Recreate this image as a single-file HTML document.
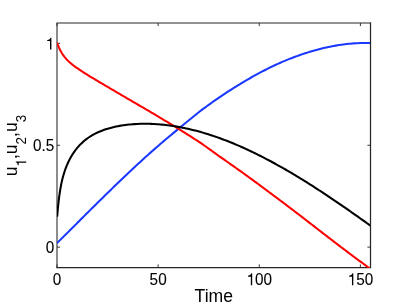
<!DOCTYPE html>
<html><head><meta charset="utf-8"><title>plot</title>
<style>
html,body{margin:0;padding:0;background:#fff;}
svg{display:block;will-change:transform;}
text{font-family:"Liberation Sans",sans-serif;fill:#000;}
</style></head>
<body>
<svg width="409" height="307" viewBox="0 0 409 307">
<defs><clipPath id="c"><rect x="57.0" y="23.0" width="313.00" height="245.00"/></clipPath></defs>
<rect x="0" y="0" width="409" height="307" fill="#fff"/>
<g fill="none" stroke="#3a3a3a" stroke-width="1.0">
<path d="M57.00,267.5 v-3.1 M57.00,23.0 v3.1"/><path d="M158.13,267.5 v-3.1 M158.13,23.0 v3.1"/><path d="M259.26,267.5 v-3.1 M259.26,23.0 v3.1"/><path d="M360.39,267.5 v-3.1 M360.39,23.0 v3.1"/><path d="M57.0,247.12 h3.1 M370.5,247.12 h-3.1"/><path d="M57.0,145.25 h3.1 M370.5,145.25 h-3.1"/><path d="M57.0,43.37 h3.1 M370.5,43.37 h-3.1"/>
</g>
<g fill="none" stroke="#262626" stroke-linecap="square">
<path d="M57.0,267.5 L57.0,23.0 L370.5,23.0" stroke-width="1.05"/>
<path d="M57.0,267.5 L370.5,267.5 L370.5,23.0" stroke-width="1.25"/>
</g>
<g fill="none" stroke-linejoin="round" stroke-linecap="butt" stroke-width="2.05" clip-path="url(#c)">
<path stroke="#1a38ff" d="M57.00,242.80 L57.23,242.78 L57.45,242.56 L57.68,242.34 L57.91,242.12 L58.13,241.90 L58.36,241.68 L58.59,241.45 L58.82,241.23 L59.04,241.01 L59.27,240.79 L59.50,240.57 L59.72,240.35 L59.95,240.13 L60.18,239.91 L60.40,239.68 L60.63,239.46 L60.86,239.24 L61.09,239.02 L61.31,238.80 L61.54,238.57 L61.77,238.35 L61.99,238.13 L62.22,237.91 L62.45,237.68 L62.67,237.46 L62.90,237.24 L63.13,237.01 L63.36,236.79 L63.58,236.57 L63.81,236.35 L64.04,236.12 L64.26,235.90 L64.49,235.67 L64.72,235.45 L64.94,235.23 L65.17,235.00 L65.40,234.78 L65.62,234.56 L65.85,234.33 L66.08,234.11 L66.31,233.88 L66.53,233.66 L66.76,233.43 L66.99,233.21 L67.21,232.98 L67.44,232.76 L67.67,232.54 L67.89,232.31 L68.12,232.09 L68.35,231.86 L68.58,231.64 L68.80,231.41 L69.03,231.18 L69.26,230.96 L69.48,230.73 L69.71,230.51 L69.94,230.28 L70.16,230.06 L70.39,229.83 L70.62,229.61 L70.84,229.38 L71.07,229.15 L71.30,228.93 L71.53,228.70 L71.75,228.48 L71.98,228.25 L72.21,228.02 L72.43,227.80 L72.66,227.57 L72.89,227.34 L73.11,227.12 L73.34,226.89 L73.57,226.66 L73.80,226.44 L74.02,226.21 L74.25,225.98 L74.48,225.76 L74.70,225.53 L74.93,225.30 L75.16,225.08 L75.38,224.85 L75.61,224.62 L75.84,224.40 L76.07,224.17 L76.29,223.94 L76.52,223.71 L76.75,223.49 L76.97,223.26 L77.20,223.03 L79.05,221.18 L80.89,219.33 L82.74,217.47 L84.59,215.61 L86.43,213.78 L88.28,211.96 L90.13,210.14 L91.97,208.32 L93.82,206.49 L95.67,204.67 L97.51,202.85 L99.36,201.03 L101.21,199.22 L103.05,197.40 L104.90,195.59 L106.74,193.78 L108.59,191.97 L110.44,190.17 L112.28,188.37 L114.13,186.57 L115.98,184.79 L117.82,183.01 L119.67,181.24 L121.52,179.47 L123.36,177.71 L125.21,175.96 L127.06,174.21 L128.90,172.47 L130.75,170.73 L132.60,169.00 L134.44,167.27 L136.29,165.56 L138.14,163.85 L139.98,162.15 L141.83,160.45 L143.68,158.76 L145.52,157.09 L147.37,155.43 L149.22,153.78 L151.06,152.14 L152.91,150.50 L154.75,148.88 L156.60,147.26 L158.45,145.65 L160.29,144.06 L162.14,142.47 L163.99,140.89 L165.83,139.32 L167.68,137.76 L169.53,136.22 L171.37,134.68 L173.22,133.15 L175.07,131.63 L176.91,130.11 L178.76,128.57 L180.61,127.04 L182.45,125.52 L184.30,124.02 L186.15,122.52 L187.99,121.04 L189.84,119.57 L191.69,118.04 L193.53,116.52 L195.38,115.02 L197.23,113.52 L199.07,112.04 L200.92,110.56 L202.76,109.18 L204.61,107.82 L206.46,106.47 L208.30,105.13 L210.15,103.80 L212.00,102.49 L213.84,101.18 L215.69,99.89 L217.54,98.62 L219.38,97.35 L221.23,96.10 L223.08,94.86 L224.92,93.63 L226.77,92.42 L228.62,91.22 L230.46,90.03 L232.31,88.86 L234.16,87.70 L236.00,86.55 L237.85,85.42 L239.70,84.30 L241.54,83.17 L243.39,82.06 L245.24,80.96 L247.08,79.88 L248.93,78.80 L250.77,77.75 L252.62,76.70 L254.47,75.67 L256.31,74.65 L258.16,73.65 L260.01,72.66 L261.85,71.69 L263.70,70.73 L265.55,69.78 L267.39,68.85 L269.24,67.93 L271.09,67.03 L272.93,66.14 L274.78,65.26 L276.63,64.40 L278.47,63.56 L280.32,62.73 L282.17,61.93 L284.01,61.15 L285.86,60.38 L287.71,59.63 L289.55,58.89 L291.40,58.17 L293.25,57.46 L295.09,56.77 L296.94,56.09 L298.78,55.43 L300.63,54.78 L302.48,54.15 L304.32,53.54 L306.17,52.94 L308.02,52.36 L309.86,51.79 L311.71,51.24 L313.56,50.71 L315.40,50.19 L317.25,49.69 L319.10,49.20 L320.94,48.74 L322.79,48.28 L324.64,47.85 L326.48,47.43 L328.33,47.04 L330.18,46.65 L332.02,46.29 L333.87,45.95 L335.72,45.62 L337.56,45.31 L339.41,45.02 L341.26,44.74 L343.10,44.49 L344.95,44.25 L346.79,44.04 L348.64,43.84 L350.49,43.66 L352.33,43.50 L354.18,43.36 L356.03,43.25 L357.87,43.15 L359.72,43.07 L361.57,43.01 L363.41,42.98 L365.26,42.96 L367.11,42.97 L368.95,43.00 L370.80,43.05"/>
<path stroke="#ff0000" d="M57.00,43.26 L57.23,43.34 L57.45,43.94 L57.68,44.53 L57.91,45.11 L58.13,45.66 L58.36,46.21 L58.59,46.74 L58.82,47.25 L59.04,47.75 L59.27,48.24 L59.50,48.72 L59.72,49.18 L59.95,49.64 L60.18,50.08 L60.40,50.51 L60.63,50.93 L60.86,51.34 L61.09,51.74 L61.31,52.13 L61.54,52.52 L61.77,52.89 L61.99,53.26 L62.22,53.62 L62.45,53.97 L62.67,54.31 L62.90,54.64 L63.13,54.97 L63.36,55.29 L63.58,55.61 L63.81,55.92 L64.04,56.22 L64.26,56.52 L64.49,56.81 L64.72,57.10 L64.94,57.38 L65.17,57.65 L65.40,57.92 L65.62,58.19 L65.85,58.45 L66.08,58.71 L66.31,58.96 L66.53,59.21 L66.76,59.46 L66.99,59.70 L67.21,59.94 L67.44,60.17 L67.67,60.40 L67.89,60.63 L68.12,60.85 L68.35,61.08 L68.58,61.29 L68.80,61.51 L69.03,61.72 L69.26,61.93 L69.48,62.14 L69.71,62.35 L69.94,62.55 L70.16,62.75 L70.39,62.95 L70.62,63.15 L70.84,63.34 L71.07,63.53 L71.30,63.72 L71.53,63.91 L71.75,64.10 L71.98,64.29 L72.21,64.47 L72.43,64.65 L72.66,64.83 L72.89,65.01 L73.11,65.19 L73.34,65.36 L73.57,65.54 L73.80,65.71 L74.02,65.88 L74.25,66.06 L74.48,66.23 L74.70,66.39 L74.93,66.56 L75.16,66.73 L75.38,66.89 L75.61,67.06 L75.84,67.22 L76.07,67.39 L76.29,67.55 L76.52,67.71 L76.75,67.87 L76.97,68.03 L77.20,68.19 L79.05,69.45 L80.89,70.68 L82.74,71.88 L84.59,73.06 L86.43,74.22 L88.28,75.37 L90.13,76.51 L91.97,77.62 L93.82,78.72 L95.67,79.82 L97.51,80.92 L99.36,82.01 L101.21,83.10 L103.05,84.19 L104.90,85.27 L106.74,86.36 L108.59,87.44 L110.44,88.53 L112.28,89.61 L114.13,90.70 L115.98,91.78 L117.82,92.87 L119.67,93.96 L121.52,95.04 L123.36,96.13 L125.21,97.22 L127.06,98.31 L128.90,99.40 L130.75,100.48 L132.60,101.55 L134.44,102.61 L136.29,103.68 L138.14,104.75 L139.98,105.82 L141.83,106.90 L143.68,107.97 L145.52,109.05 L147.37,110.13 L149.22,111.22 L151.06,112.31 L152.91,113.40 L154.75,114.49 L156.60,115.59 L158.45,116.69 L160.29,117.79 L162.14,118.90 L163.99,120.01 L165.83,121.12 L167.68,122.24 L169.53,123.36 L171.37,124.49 L173.22,125.62 L175.07,126.75 L176.91,127.89 L178.76,129.03 L180.61,130.17 L182.45,131.32 L184.30,132.48 L186.15,133.63 L187.99,134.80 L189.84,135.96 L191.69,137.13 L193.53,138.31 L195.38,139.49 L197.23,140.67 L199.07,141.86 L200.92,143.11 L202.76,144.41 L204.61,145.72 L206.46,147.03 L208.30,148.34 L210.15,149.67 L212.00,150.99 L213.84,152.32 L215.69,153.66 L217.54,154.99 L219.38,156.34 L221.23,157.64 L223.08,158.92 L224.92,160.20 L226.77,161.49 L228.62,162.78 L230.46,164.07 L232.31,165.37 L234.16,166.68 L236.00,167.99 L237.85,169.30 L239.70,170.62 L241.54,171.94 L243.39,173.26 L245.24,174.59 L247.08,175.93 L248.93,177.26 L250.77,178.60 L252.62,179.95 L254.47,181.30 L256.31,182.65 L258.16,184.00 L260.01,185.36 L261.85,186.72 L263.70,188.09 L265.55,189.46 L267.39,190.83 L269.24,192.20 L271.09,193.58 L272.93,194.96 L274.78,196.34 L276.63,197.73 L278.47,199.11 L280.32,200.50 L282.17,201.90 L284.01,203.29 L285.86,204.69 L287.71,206.08 L289.55,207.48 L291.40,208.88 L293.25,210.28 L295.09,211.69 L296.94,213.09 L298.78,214.50 L300.63,215.91 L302.48,217.34 L304.32,218.77 L306.17,220.20 L308.02,221.63 L309.86,223.07 L311.71,224.50 L313.56,225.93 L315.40,227.36 L317.25,228.79 L319.10,230.21 L320.94,231.64 L322.79,233.07 L324.64,234.49 L326.48,235.92 L328.33,237.34 L330.18,238.76 L332.02,240.17 L333.87,241.59 L335.72,243.00 L337.56,244.41 L339.41,245.81 L341.26,247.22 L343.10,248.63 L344.95,250.03 L346.79,251.43 L348.64,252.82 L350.49,254.21 L352.33,255.59 L354.18,256.97 L356.03,258.35 L357.87,259.72 L359.72,261.08 L361.57,262.44 L363.41,263.79 L365.26,265.13 L367.11,266.47 L368.95,267.80 L370.80,269.13"/>
<path stroke="#000" d="M57.00,216.39 L57.23,216.05 L57.45,213.29 L57.68,210.69 L57.91,208.24 L58.13,205.94 L58.36,203.77 L58.59,201.72 L58.82,199.78 L59.04,197.95 L59.27,196.21 L59.50,194.56 L59.72,193.00 L59.95,191.51 L60.18,190.09 L60.40,188.74 L60.63,187.45 L60.86,186.21 L61.09,185.03 L61.31,183.90 L61.54,182.81 L61.77,181.77 L61.99,180.76 L62.22,179.80 L62.45,178.87 L62.67,177.97 L62.90,177.10 L63.13,176.26 L63.36,175.44 L63.58,174.65 L63.81,173.89 L64.04,173.15 L64.26,172.43 L64.49,171.72 L64.72,171.04 L64.94,170.38 L65.17,169.73 L65.40,169.10 L65.62,168.48 L65.85,167.87 L66.08,167.28 L66.31,166.71 L66.53,166.14 L66.76,165.59 L66.99,165.05 L67.21,164.52 L67.44,164.00 L67.67,163.49 L67.89,162.99 L68.12,162.50 L68.35,162.01 L68.58,161.54 L68.80,161.07 L69.03,160.62 L69.26,160.17 L69.48,159.72 L69.71,159.29 L69.94,158.86 L70.16,158.44 L70.39,158.02 L70.62,157.61 L70.84,157.21 L71.07,156.81 L71.30,156.42 L71.53,156.04 L71.75,155.66 L71.98,155.28 L72.21,154.92 L72.43,154.55 L72.66,154.19 L72.89,153.84 L73.11,153.49 L73.34,153.15 L73.57,152.81 L73.80,152.47 L74.02,152.14 L74.25,151.82 L74.48,151.49 L74.70,151.18 L74.93,150.86 L75.16,150.55 L75.38,150.25 L75.61,149.95 L75.84,149.65 L76.07,149.36 L76.29,149.07 L76.52,148.78 L76.75,148.50 L76.97,148.22 L77.20,147.94 L79.05,145.82 L80.89,143.89 L82.74,142.14 L84.59,140.54 L86.43,139.08 L88.28,137.74 L90.13,136.51 L91.97,135.38 L93.82,134.34 L95.67,133.39 L97.51,132.50 L99.36,131.68 L101.21,130.93 L103.05,130.23 L104.90,129.58 L106.74,128.98 L108.59,128.42 L110.44,127.91 L112.28,127.43 L114.13,126.99 L115.98,126.58 L117.82,126.21 L119.67,125.87 L121.52,125.56 L123.36,125.28 L125.21,125.02 L127.06,124.79 L128.90,124.58 L130.75,124.40 L132.60,124.25 L134.44,124.12 L136.29,124.01 L138.14,123.92 L139.98,123.85 L141.83,123.81 L143.68,123.78 L145.52,123.78 L147.37,123.80 L149.22,123.83 L151.06,123.89 L152.91,123.97 L154.75,124.06 L156.60,124.18 L158.45,124.31 L160.29,124.46 L162.14,124.63 L163.99,124.82 L165.83,125.02 L167.68,125.25 L169.53,125.49 L171.37,125.74 L173.22,126.02 L175.07,126.31 L176.91,126.62 L178.76,126.95 L180.61,127.29 L182.45,127.65 L184.30,128.02 L186.15,128.41 L187.99,128.82 L189.84,129.25 L191.69,129.68 L193.53,130.14 L195.38,130.61 L197.23,131.09 L199.07,131.60 L200.92,132.11 L202.76,132.64 L204.61,133.19 L206.46,133.75 L208.30,134.32 L210.15,134.91 L212.00,135.51 L213.84,136.13 L215.69,136.76 L217.54,137.40 L219.38,138.06 L221.23,138.74 L223.08,139.42 L224.92,140.12 L226.77,140.83 L228.62,141.56 L230.46,142.29 L232.31,143.04 L234.16,143.81 L236.00,144.58 L237.85,145.37 L239.70,146.17 L241.54,146.98 L243.39,147.81 L245.24,148.64 L247.08,149.49 L248.93,150.35 L250.77,151.22 L252.62,152.10 L254.47,153.00 L256.31,153.90 L258.16,154.81 L260.01,155.74 L261.85,156.68 L263.70,157.62 L265.55,158.58 L267.39,159.55 L269.24,160.53 L271.09,161.51 L272.93,162.51 L274.78,163.52 L276.63,164.53 L278.47,165.56 L280.32,166.59 L282.17,167.64 L284.01,168.69 L285.86,169.75 L287.71,170.82 L289.55,171.90 L291.40,172.99 L293.25,174.09 L295.09,175.19 L296.94,176.31 L298.78,177.43 L300.63,178.56 L302.48,179.69 L304.32,180.84 L306.17,181.99 L308.02,183.14 L309.86,184.31 L311.71,185.48 L313.56,186.66 L315.40,187.85 L317.25,189.04 L319.10,190.24 L320.94,191.45 L322.79,192.66 L324.64,193.88 L326.48,195.10 L328.33,196.33 L330.18,197.57 L332.02,198.81 L333.87,200.05 L335.72,201.30 L337.56,202.56 L339.41,203.82 L341.26,205.09 L343.10,206.36 L344.95,207.64 L346.79,208.92 L348.64,210.20 L350.49,211.49 L352.33,212.79 L354.18,214.08 L356.03,215.38 L357.87,216.69 L359.72,218.00 L361.57,219.31 L363.41,220.63 L365.26,221.94 L367.11,223.26 L368.95,224.59 L370.80,225.92"/>
</g>
<g font-size="15.3" stroke="#000" stroke-width="0.08"><text transform="translate(52.75,285.20) scale(1,1.09)" font-size="15.3">0</text><text transform="translate(149.62,285.20) scale(1,1.09)" font-size="15.3">50</text><path transform="translate(246.50,285.20) scale(0.01530,0.01668)" d="M372,0 L372,-709 L314,-709 C296,-640 236,-588 100,-570 L100,-506 L284,-506 L284,0 Z" fill="#000" stroke="none"/><text transform="translate(255.00,285.20) scale(1,1.09)" font-size="15.3">00</text><path transform="translate(347.63,285.20) scale(0.01530,0.01668)" d="M372,0 L372,-709 L314,-709 C296,-640 236,-588 100,-570 L100,-506 L284,-506 L284,0 Z" fill="#000" stroke="none"/><text transform="translate(356.13,285.20) scale(1,1.09)" font-size="15.3">50</text><text transform="translate(45.69,253.22) scale(1,1.09)" font-size="15.3">0</text><text transform="translate(32.93,151.35) scale(1,1.09)" font-size="15.3">0.5</text><path transform="translate(45.69,49.47) scale(0.01530,0.01668)" d="M372,0 L372,-709 L314,-709 C296,-640 236,-588 100,-570 L100,-506 L284,-506 L284,0 Z" fill="#000" stroke="none"/></g>
<text x="213.8" y="301.8" text-anchor="middle" font-size="17.6">Time</text>
<g transform="translate(16.8,145.6) rotate(-90)"><text transform="translate(-30.75,0.00) scale(1,1.0)" font-size="17.6">u</text><path transform="translate(-20.96,9.40) scale(0.01340,0.01474)" d="M372,0 L372,-709 L314,-709 C296,-640 236,-588 100,-570 L100,-506 L284,-506 L284,0 Z" fill="#000" stroke="none"/><text transform="translate(-13.51,0.00) scale(1,1.0)" font-size="17.6">,u</text><text transform="translate(1.17,9.40) scale(1,1.1)" font-size="13.4">2</text><text transform="translate(8.62,0.00) scale(1,1.0)" font-size="17.6">,u</text><text transform="translate(23.30,9.40) scale(1,1.1)" font-size="13.4">3</text></g>
</svg>
</body></html>
